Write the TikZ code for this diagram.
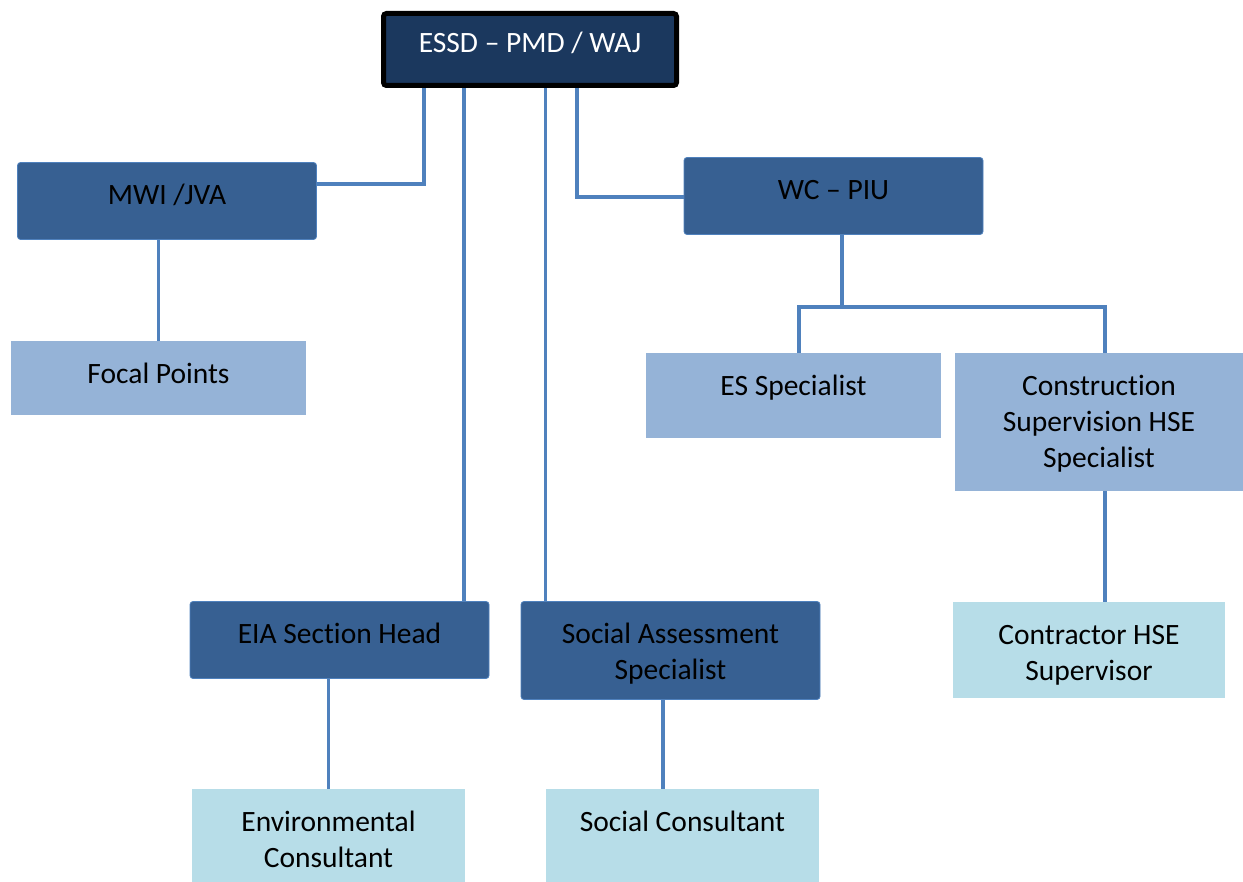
\documentclass[tikz,border=0pt]{standalone}
\usepackage{fontspec}
\setmainfont{Carlito}[Ligatures={TeX,NoCommon}]
\usepackage{tikz}
\usetikzlibrary{backgrounds}
\definecolor{topnavy}{RGB}{27,56,94}
\definecolor{midblue}{RGB}{55,96,146}
\definecolor{midedge}{RGB}{79,129,189}
\definecolor{paleblue}{RGB}{149,179,215}
\definecolor{palecyan}{RGB}{183,221,232}
\definecolor{linkblue}{RGB}{79,129,189}
\newcommand{\orgtxt}[1]{\begin{tabular}[t]{@{}c@{}}#1\end{tabular}}
\newcommand{\orgfont}{\fontsize{29.5}{36}\selectfont}

\begin{document}
\begin{tikzpicture}[x=1pt,y=-1pt,
	box/.style={rectangle, inner sep=0pt},
	topbox/.style={box, fill=topnavy, draw=black, line width=5pt, rounded corners=3pt},
	midbox/.style={box, fill=midblue, draw=midedge, line width=0.8pt, rounded corners=3pt},
	palebox/.style={box, fill=paleblue},
	cyanbox/.style={box, fill=palecyan},
	txt/.style={anchor=base, yshift=-42.5pt, inner sep=0pt, font=\orgfont},
	link/.style={draw=linkblue, line width=3.6pt}]
	
	\useasboundingbox (0,0) rectangle (1243,882);
	
	% top of the chart
	\node[topbox, minimum width=293pt, minimum height=72pt,
		label={[txt, yshift=0.5pt, text=white]north:\orgtxt{ESSD -- PMD / WAJ}}] (essd) at (530,49.5) {};
	
	% second level
	\node[midbox, minimum width=299pt, minimum height=77pt,
		label={[txt]north:\orgtxt{MWI /JVA}}] (mwi) at (167,201) {};
	\node[midbox, minimum width=299pt, minimum height=77pt,
		label={[txt]north:\orgtxt{WC -- PIU}}] (wcpiu) at (833.5,196) {};
	
	% third level
	\node[palebox, minimum width=295pt, minimum height=74pt,
		label={[txt]north:\orgtxt{Focal Points}}] (focal) at (158.5,378) {};
	\node[palebox, minimum width=295pt, minimum height=85pt,
		label={[txt]north:\orgtxt{ES Specialist}}] (es) at (793.5,395.5) {};
	\node[palebox, minimum width=288pt, minimum height=138pt,
		label={[txt]north:\orgtxt{Construction\\Supervision HSE\\Specialist}}] (cshse) at (1099,422) {};
	
	% heads at the bottom
	\node[midbox, minimum width=299pt, minimum height=77pt,
		label={[txt]north:\orgtxt{EIA Section Head}}] (eia) at (339.5,640) {};
	\node[midbox, minimum width=299pt, minimum height=98pt,
		label={[txt]north:\orgtxt{Social Assessment\\Specialist}}] (sas) at (670.5,650.5) {};
	\node[cyanbox, minimum width=272pt, minimum height=96pt,
		label={[txt]north:\orgtxt{Contractor HSE\\Supervisor}}] (chse) at (1089,650) {};
	
	% consultants
	\node[cyanbox, minimum width=273pt, minimum height=93pt,
		label={[txt]north:\orgtxt{Environmental\\Consultant}}] (envc) at (328.5,835.5) {};
	\node[cyanbox, minimum width=273pt, minimum height=93pt,
		label={[txt]north:\orgtxt{Social Consultant}}] (socc) at (682.5,835.5) {};
	
	\coordinate (kneeL) at (424,184);  % bend towards MWI
	\coordinate (kneeR) at (577,197);  % bend towards WC
	\coordinate (dropE) at (464,0);    % line down to EIA
	\coordinate (dropS) at (545.5,0);  % line down to social assessment
	\coordinate (dropC) at (663,0);
	\coordinate (split) at (842,307);  % fork under WC
	\coordinate (forkL) at (799,307);
	\coordinate (forkR) at (1105,307);
	
	\begin{pgfonlayer}{background}
	\draw[link] (essd.south -| kneeL) |- (mwi.east |- kneeL);
	\draw[link] (essd.south -| kneeR) |- (wcpiu.west |- kneeR);
	\draw[link] (essd.south -| dropE) -- (eia.north -| dropE);
	\draw[link] (essd.south -| dropS) -- (sas.north -| dropS);
	\draw[link] (mwi.south -| focal.north) -- (focal.north);
	\draw[link] (wcpiu.south -| split) -- (split);
	\draw[link] (es.north -| forkL) |- (forkR) -- (cshse.north -| forkR);
	\draw[link] (cshse.south -| forkR) -- (chse.north -| forkR);
	\draw[link] (eia.south -| envc.north) -- (envc.north);
	\draw[link] (sas.south -| dropC) -- (socc.north -| dropC);
	\end{pgfonlayer}
	
\end{tikzpicture}
\end{document}
